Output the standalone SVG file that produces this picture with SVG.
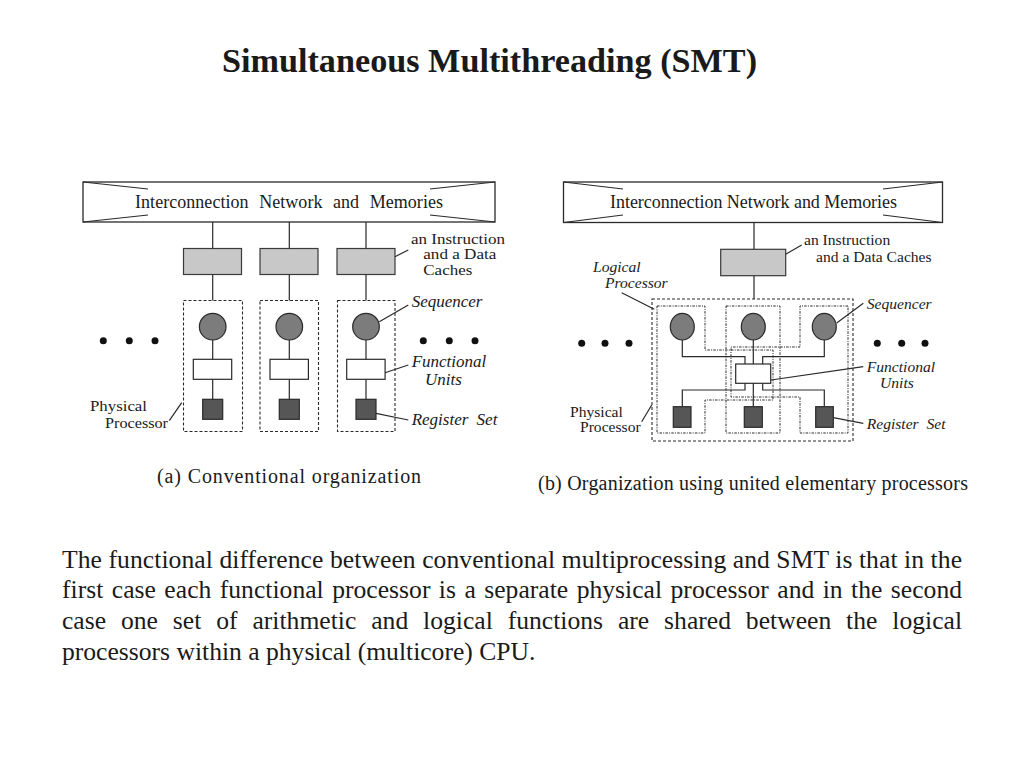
<svg xmlns="http://www.w3.org/2000/svg" width="1024" height="768" viewBox="0 0 1024 768">
<style>
.ln{stroke:#2a2a2a;stroke-width:1.2;fill:none}
.box{fill:#fff;stroke:#2a2a2a;stroke-width:1.3}
.cache{fill:#c8c8c8;stroke:#3a3a3a;stroke-width:1.2}
.seq{fill:#7c7c7c;stroke:#2a2a2a;stroke-width:1.2}
.fu{fill:#fff;stroke:#2a2a2a;stroke-width:1.2}
.reg{fill:#565656;stroke:#2a2a2a;stroke-width:1.2}
.dash{fill:none;stroke:#2a2a2a;stroke-width:1.1;stroke-dasharray:3 2}
.dot{fill:none;stroke:#2a2a2a;stroke-width:1;stroke-dasharray:2.5 1.2 1 1.2}
.t{font-family:"Liberation Serif","Times New Roman",serif;fill:#1a1a1a}
.it{font-family:"Liberation Serif","Times New Roman",serif;font-style:italic;fill:#1a1a1a}
.blk{fill:#111}
</style>

<text class="t" x="489.5" y="72" font-size="34.2" font-weight="bold" text-anchor="middle" fill="#000">Simultaneous Multithreading (SMT)</text>

<!-- Diagram (a) -->
<g id="a-network">
<rect class="box" x="83" y="182" width="412" height="40"/>
<path class="ln" d="M83,182 L148,189 M83,222 L148,215 M495,182 L430,189 M495,222 L430,215"/>
<text class="t" x="135" y="208" font-size="18" textLength="308" lengthAdjust="spacing" word-spacing="6">Interconnection Network and Memories</text>
</g>
<g id="a-cache1"><rect class="cache" x="183.5" y="248.5" width="58" height="26"/></g>
<g id="a-cache2"><rect class="cache" x="260" y="248.5" width="58" height="26"/></g>
<g id="a-cache3"><rect class="cache" x="337" y="248.5" width="58" height="26"/></g>
<g id="a-proc1">
<rect class="dash" x="183.5" y="300.5" width="59" height="131"/>
<circle class="seq" cx="212.7" cy="326.7" r="13.3"/>
<rect class="fu" x="193.3" y="359.3" width="38.4" height="20"/>
<rect class="reg" x="202.7" y="399.3" width="20" height="20"/>
</g>
<g id="a-proc2">
<rect class="dash" x="260" y="300.5" width="58.5" height="131"/>
<circle class="seq" cx="289.3" cy="326.7" r="13.3"/>
<rect class="fu" x="270" y="359.3" width="38.4" height="20"/>
<rect class="reg" x="279.3" y="399.3" width="20" height="20"/>
</g>
<g id="a-proc3">
<rect class="dash" x="337.5" y="300.5" width="57.5" height="131"/>
<circle class="seq" cx="366" cy="326.7" r="13.3"/>
<rect class="fu" x="346.7" y="359.3" width="38.4" height="20"/>
<rect class="reg" x="356" y="399.3" width="20" height="20"/>
</g>
<g id="a-dots">
<circle class="blk" cx="103.3" cy="340.7" r="3.5"/><circle class="blk" cx="129.3" cy="340.7" r="3.5"/><circle class="blk" cx="155" cy="340.7" r="3.5"/>
<circle class="blk" cx="423.3" cy="340.7" r="3.5"/><circle class="blk" cx="449.3" cy="340.7" r="3.5"/><circle class="blk" cx="475" cy="340.7" r="3.5"/>
</g>
<g id="a-labels">
<text class="t" x="411" y="243.5" font-size="14.5" textLength="94" lengthAdjust="spacingAndGlyphs">an Instruction</text>
<text class="t" x="423.3" y="259" font-size="14.5" textLength="73" lengthAdjust="spacingAndGlyphs">and a Data</text>
<text class="t" x="423.3" y="274.5" font-size="14.5" textLength="49" lengthAdjust="spacingAndGlyphs">Caches</text>
<text class="it" x="411.7" y="307.3" font-size="17">Sequencer</text>
<text class="it" x="411.7" y="367.3" font-size="17">Functional</text>
<text class="it" x="425" y="385" font-size="17">Units</text>
<text class="it" x="411.7" y="425" font-size="17" word-spacing="4">Register Set</text>
<text class="t" x="90" y="411" font-size="14.5" textLength="57" lengthAdjust="spacingAndGlyphs">Physical</text>
<text class="t" x="105" y="427.5" font-size="14.5" textLength="63" lengthAdjust="spacingAndGlyphs">Processor</text>
</g>
<text class="t" x="157" y="483" font-size="20" textLength="264" lengthAdjust="spacing">(a) Conventional organization</text>

<!-- Diagram (b) -->
<g id="b-network">
<rect class="box" x="563.5" y="182" width="379" height="40.5"/>
<path class="ln" d="M563.5,182 L623,189 M563.5,222.5 L623,215 M942.5,182 L883,189 M942.5,222.5 L883,215"/>
<text class="t" x="610" y="208" font-size="18" textLength="287" lengthAdjust="spacing">Interconnection Network and Memories</text>
</g>
<g id="b-cache"><rect class="cache" x="720.7" y="249.3" width="65" height="26.4"/></g>
<g id="b-physical">
<rect class="dash" x="652" y="299" width="201" height="142"/>
</g>
<g id="b-logical1"><polygon class="dot" points="657,306 705,306 705,350 773,350 773,400 705,400 705,433 657,433"/>
<ellipse class="seq" cx="682.3" cy="326.7" rx="12" ry="13.3"/>
<rect class="reg" x="673.3" y="406.7" width="17.7" height="20.6"/></g>
<g id="b-logical2"><rect class="dot" x="726" y="306" width="54" height="127"/>
<ellipse class="seq" cx="753.3" cy="326.7" rx="12" ry="13.3"/>
<rect class="reg" x="744.3" y="406.7" width="18" height="20.6"/></g>
<g id="b-logical3"><polygon class="dot" points="848,306 800,306 800,347 731,347 731,397 800,397 800,433 848,433"/>
<ellipse class="seq" cx="824.3" cy="326.7" rx="12" ry="13.3"/>
<rect class="reg" x="815.7" y="406.7" width="17.6" height="20.6"/></g>
<g id="b-fu"><rect class="fu" x="735.7" y="364" width="35" height="19.3"/></g>
<g id="b-dots">
<circle class="blk" cx="581.7" cy="343.3" r="3.5"/><circle class="blk" cx="605" cy="343.3" r="3.5"/><circle class="blk" cx="629" cy="343.3" r="3.5"/>
<circle class="blk" cx="877.3" cy="343.3" r="3.5"/><circle class="blk" cx="901.7" cy="343.3" r="3.5"/><circle class="blk" cx="925" cy="343.3" r="3.5"/>
</g>
<g id="b-labels">
<text class="t" x="804" y="245" font-size="15.6">an Instruction</text>
<text class="t" x="816" y="262" font-size="15.6">and a Data Caches</text>
<text class="it" x="593" y="271.7" font-size="15.6">Logical</text>
<text class="it" x="605" y="287.7" font-size="15.6">Processor</text>
<text class="it" x="866.7" y="309" font-size="15.6">Sequencer</text>
<text class="it" x="866.7" y="371.7" font-size="15.6">Functional</text>
<text class="it" x="880" y="388.3" font-size="15.6">Units</text>
<text class="it" x="866.7" y="429.3" font-size="15.6" word-spacing="4">Register Set</text>
<text class="t" x="570" y="416.7" font-size="15.6">Physical</text>
<text class="t" x="580" y="431.7" font-size="15.6">Processor</text>
</g>
<text class="t" x="538" y="490" font-size="20" textLength="430" lengthAdjust="spacing">(b) Organization using united elementary processors</text>

<g id="connectors">
<path class="ln" d="M212.7,222 V248.5 M289.3,222 V248.5 M366,222 V248.5"/>
<path class="ln" d="M212.7,274.5 V300.5 M289.3,274.5 V300.5 M366,274.5 V300.5"/>
<path class="ln" d="M212.7,340 V359.3 M289.3,340 V359.3 M366,340 V359.3"/>
<path class="ln" d="M212.7,379.3 V399.3 M289.3,379.3 V399.3 M366,379.3 V399.3"/>
<path class="ln" d="M395,256.7 L408.3,250 M379.3,321.7 L408.3,305 M385,372.7 L408.3,365 M376,413.3 L408.3,420 M169.3,420.7 L181.7,402.7"/>
<path class="ln" d="M754,222.5 V249.3 M754,275.7 V299"/>
<path class="ln" d="M682.3,340 V356.7 H745 V364 M753.3,340 V364 M824.3,340 V356.7 H762.7 V364"/>
<path class="ln" d="M745,383.3 V390 H682.3 V406.7 M753.3,383.3 V406.7 M762.7,383.3 V390 H824.3 V406.7"/>
<path class="ln" d="M785.7,254.3 L801.7,245 M621.7,292.7 L654.3,309.3 M836.7,323 L863.3,303.3 M771,380 L863.3,366.7 M833.3,417.7 L863.3,423.3 M641.7,421.7 L651.7,405"/>
</g>

<g id="body">
<text class="t" x="62" y="568" font-size="25.6" textLength="900" lengthAdjust="spacing">The functional difference between conventional multiprocessing and SMT is that in the</text>
<text class="t" x="62" y="598" font-size="25.6" word-spacing="2" textLength="900" lengthAdjust="spacing">first case each functional processor is a separate physical processor and in the second</text>
<text class="t" x="62" y="629" font-size="25.6" word-spacing="8.5" textLength="900" lengthAdjust="spacing">case one set of arithmetic and logical functions are shared between the logical</text>
<text class="t" x="62" y="660" font-size="25.6">processors within a physical (multicore) CPU.</text>
</g>
</svg>
